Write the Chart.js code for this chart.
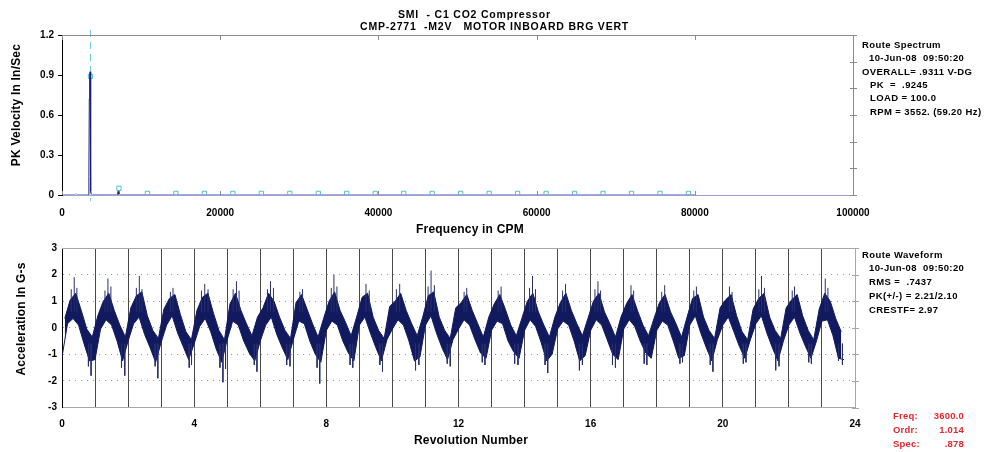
<!DOCTYPE html>
<html>
<head>
<meta charset="utf-8">
<script src="https://cdn.jsdelivr.net/npm/chart.js@4.4.1/dist/chart.umd.min.js"></script>
<style>
body{margin:0;background:#fff;width:999px;height:452px;overflow:hidden;position:relative;font-family:"Liberation Sans",Arial,sans-serif;}
canvas{position:absolute;left:0;top:0;}
.t{position:absolute;white-space:pre;font-weight:bold;font-size:9.5px;letter-spacing:0.4px;line-height:1;color:#000;}
.ttl{font-size:10.5px;letter-spacing:0.8px;}
.ax{font-size:12px;letter-spacing:0.2px;}
.red{color:#e8262c;letter-spacing:0.2px;}
.rot{transform:translate(-50%,-50%) rotate(-90deg);}
.ctr{transform:translateX(-50%);}
.r{text-align:right;}
</style>
</head>
<body>
<canvas id="spec" width="999" height="452"></canvas>
<canvas id="wave" width="999" height="452"></canvas>

<div class="t ttl" style="left:398px;top:9px">SMI  - C1 CO2 Compressor</div>
<div class="t ttl" style="left:360px;top:21px">CMP-2771  -M2V   MOTOR INBOARD BRG VERT</div>

<div class="t ax rot" style="left:16px;top:105px">PK Velocity In In/Sec</div>
<div class="t ax ctr" style="left:470px;top:223px">Frequency in CPM</div>
<div class="t ax rot" style="left:21px;top:319px">Acceleration In G-s</div>
<div class="t ax ctr" style="left:471px;top:434px">Revolution Number</div>

<div class="t" style="left:862px;top:40px">Route Spectrum</div>
<div class="t" style="left:869px;top:53px">10-Jun-08  09:50:20</div>
<div class="t" style="left:862px;top:67px">OVERALL= .9311 V-DG</div>
<div class="t" style="left:870px;top:80px">PK  =  .9245</div>
<div class="t" style="left:870px;top:93px">LOAD = 100.0</div>
<div class="t" style="left:870px;top:107px">RPM = 3552. (59.20 Hz)</div>

<div class="t" style="left:862px;top:250px">Route Waveform</div>
<div class="t" style="left:869px;top:263px">10-Jun-08  09:50:20</div>
<div class="t" style="left:869px;top:277px">RMS =  .7437</div>
<div class="t" style="left:869px;top:291px">PK(+/-) = 2.21/2.10</div>
<div class="t" style="left:869px;top:305px">CRESTF= 2.97</div>

<div class="t red" style="left:893px;top:411px">Freq:</div>
<div class="t red r" style="left:914px;width:50px;top:411px">3600.0</div>
<div class="t red" style="left:893px;top:425px">Ordr:</div>
<div class="t red r" style="left:914px;width:50px;top:425px">1.014</div>
<div class="t red" style="left:893px;top:439px">Spec:</div>
<div class="t red r" style="left:914px;width:50px;top:439px">.878</div>

<script>
// spectrum (CPM vs in/sec pk)
const specCpm = [0, 1700, 1800, 1900, 3350, 3400, 3450, 3500, 3550, 3600, 3650, 3700, 7000, 7100, 7200, 14300, 14400, 14500, 25100, 25200, 25300, 80000];
const specAmp = [0.003, 0.003, 0.012, 0.003, 0.003, 0.14, 0.72, 0.89, 0.924, 0.55, 0.03, 0.004, 0.003, 0.028, 0.004, 0.003, 0.008, 0.003, 0.003, 0.006, 0.003, 0.003];

// harmonic markers of the cursor
const harmCpm = [3600, 7200, 10800, 14400, 18000, 21600, 25200, 28800, 32400, 36000, 39600,
  43200, 46800, 50400, 54000, 57600, 61200, 64800, 68400, 72000, 75600, 79200];
const harmAmp = [0.89, 0.05, 0.012, 0.012, 0.012, 0.012, 0.012, 0.012, 0.012, 0.012, 0.012,
  0.012, 0.012, 0.012, 0.012, 0.012, 0.012, 0.012, 0.012, 0.012, 0.012, 0.012];
const cursorCpm = 3600;

const specTicks = [0, 20000, 40000, 60000, 80000, 100000];

// waveform, G-s, 12 samples per revolution (one row per rev), alternating low/high edge of the band
const samplesPerRev = 12;
const waveG = [
  [-1.1, 0.35, 0.15, 1.05, 0.35, 1.3, 0.1, 0.65, -0.6, -0.05, -1.25, -0.35],
  [-1.2, 0.45, -0.05, 1.0, 0.3, 1.3, 0.1, 0.65, -0.5, 0.1, -1.25, -0.35],
  [-0.5, 0.75, 0.15, 1.2, 0.4, 1.35, -0.25, 0.45, -0.75, -0.1, -1.3, -0.4],
  [-0.55, 0.7, 0.1, 1.1, 0.45, 1.25, -0.2, 0.5, -0.7, -0.15, -1.2, -0.45],
  [-0.6, 0.65, 0.05, 1.15, 0.35, 1.3, -0.15, 0.55, -0.8, -0.1, -1.3, -0.45],
  [-0.45, 0.9, 0.25, 1.3, 0.1, 0.65, -0.5, 0.15, -0.95, -0.3, -1.25, 0.4],
  [-0.5, 0.75, 0.1, 1.3, 0.4, 1.0, -0.25, 0.4, -0.75, -0.1, -1.2, -0.4],
  [-0.45, 0.95, 0.25, 1.25, 0.15, 0.7, -0.5, 0.15, -1.0, -0.35, -1.3, 0.35],
  [-0.1, 1.0, 0.25, 1.35, 0.1, 0.65, -0.5, 0.2, -0.95, -0.3, -1.25, 0.4],
  [0.1, 1.15, 0.4, 1.3, -0.2, 0.4, -0.75, -0.1, -1.25, -0.4, -0.45, 0.8],
  [-0.05, 1.0, 0.3, 1.3, 0.1, 0.65, -0.5, 0.15, -1.25, -0.3, -1.1, 0.4],
  [0.1, 1.2, 0.45, 1.35, -0.2, 0.4, -0.75, -0.1, -1.2, -0.4, -0.45, 0.75],
  [-0.05, 0.95, 0.3, 1.25, 0.1, 0.65, -0.45, 0.15, -0.95, -0.35, -1.15, 0.4],
  [-0.1, 0.9, 0.25, 1.25, 0.15, 0.7, -0.5, 0.1, -0.9, -0.3, -1.15, 0.35],
  [-0.1, 1.0, 0.3, 1.3, 0.05, 0.6, -0.55, 0.1, -1.25, -0.35, -1.0, 0.4],
  [-0.05, 0.95, 0.25, 1.3, 0.1, 0.65, -0.5, 0.15, -1.25, -0.3, -1.05, 0.35],
  [-0.1, 1.0, 0.3, 1.3, 0.1, 0.6, -0.45, 0.15, -1.0, -0.35, -1.2, 0.4],
  [-0.05, 0.9, 0.3, 1.25, 0.05, 0.65, -0.5, 0.1, -0.95, -0.3, -1.15, 0.35],
  [-0.1, 0.95, 0.25, 1.25, 0.1, 0.6, -0.5, 0.15, -1.15, -0.35, -1.05, 0.4],
  [0.1, 1.1, 0.45, 1.25, -0.2, 0.4, -0.75, -0.1, -1.25, -0.4, -0.45, 0.75],
  [0.1, 1.05, 0.4, 1.25, -0.15, 0.45, -0.7, -0.15, -1.15, -0.45, -0.45, 0.7],
  [0.15, 1.1, 0.45, 1.3, -0.2, 0.4, -0.75, -0.1, -1.25, -0.4, -0.5, 0.75],
  [0.1, 1.05, 0.4, 1.25, -0.2, 0.45, -0.7, -0.1, -1.15, -0.45, -0.5, 0.7],
  [0.25, 1.3, 0.3, 1.0, -0.3, 0.35, -1.15, -0.15, -1.2]
];

// thin noise spikes sticking out of the band (rev, G-s)
const spikeUpRev = [0.28, 0.37, 0.45, 1.3, 1.39, 1.48, 2.25, 2.34, 2.42, 3.28, 3.36, 4.22, 4.32, 4.42,
  5.18, 5.28, 5.36, 6.22, 6.31, 6.4, 7.2, 7.28, 8.15, 8.23, 8.32, 9.2, 9.3, 10.12, 10.22,
  11.08, 11.17, 11.27, 12.17, 12.25, 13.2, 13.29, 14.15, 14.24, 14.33, 15.15, 15.24,
  16.13, 16.22, 16.3, 17.22, 17.3, 18.15, 18.24, 19.12, 19.2, 20.2, 20.28,
  21.09, 21.17, 21.26, 22.1, 22.17, 23.1, 23.18];
const spikeUpG = [1.45, 1.9, 1.5, 1.4, 1.85, 1.55, 1.5, 1.95, 1.45, 1.35, 1.5, 1.4, 1.65, 1.45,
  1.45, 1.75, 1.4, 1.45, 1.75, 1.5, 1.35, 1.45, 1.5, 2.0, 1.55, 1.65, 1.4, 1.45, 1.65,
  1.55, 2.15, 1.6, 1.35, 1.5, 1.4, 1.55, 1.5, 1.95, 1.45, 1.4, 1.65,
  1.45, 1.75, 1.4, 1.6, 1.4, 1.35, 1.6, 1.4, 1.55, 1.55, 1.35,
  1.45, 1.95, 1.5, 1.4, 1.55, 1.85, 1.5];
const spikeDownRev = [0.8, 0.88, 1.8, 1.9, 2.82, 2.9, 3.85, 3.92, 4.78, 4.87, 4.95, 5.82, 5.9,
  6.8, 6.9, 7.72, 7.8, 8.72, 8.8, 9.62, 9.7, 10.7, 10.8, 11.66, 11.75, 12.72, 12.8,
  13.7, 13.8, 14.62, 14.7, 15.66, 15.75, 16.66, 16.75, 17.62, 17.7, 18.7, 18.78,
  19.62, 19.7, 20.62, 20.7, 21.6, 21.7, 22.6, 22.68, 23.5, 23.62];
const spikeDownG = [-1.45, -1.8, -1.5, -1.8, -1.45, -1.9, -1.5, -1.4, -1.5, -2.05, -1.55, -1.4, -1.65,
  -1.4, -1.45, -1.5, -2.1, -1.4, -1.5, -1.4, -1.65, -1.6, -1.4, -1.35, -1.45, -1.3, -1.4,
  -1.35, -1.4, -1.4, -1.7, -1.6, -1.4, -1.4, -1.5, -1.35, -1.4, -1.35, -1.3,
  -1.4, -1.65, -1.35, -1.3, -1.6, -1.45, -1.3, -1.35, -1.25, -1.4];
const spikeRoot = 0.6; // spikes start this far from zero, inside the band

const FONT = { family: '"Liberation Sans", Arial, sans-serif', size: 10, weight: 'bold' };
const NAVY = '#111a5e';

// gray frame on top/right plus small inner ticks
const framePlugin = {
  id: 'frame',
  afterDatasetsDraw(chart, args, o){
    const { ctx, chartArea: a } = chart;
    ctx.save();
    ctx.strokeStyle = o.color;
    ctx.lineWidth = 1;
    ctx.beginPath();
    ctx.moveTo(a.left, a.top + 0.5);
    ctx.lineTo(a.right + 0.5, a.top + 0.5);
    ctx.lineTo(a.right + 0.5, a.bottom);
    if (o.innerX){
      chart.scales.x.ticks.forEach(t => {
        const px = Math.round(chart.scales.x.getPixelForValue(t.value)) + 0.5;
        ctx.moveTo(px, a.bottom); ctx.lineTo(px, a.bottom - 4);
        ctx.moveTo(px, a.top); ctx.lineTo(px, a.top + 5);
      });
    }
    if (o.rightStep){
      const ys = chart.scales.y;
      for (let v = ys.min; v <= ys.max + 1e-9; v += o.rightStep){
        const py = Math.round(ys.getPixelForValue(v)) + 0.5;
        ctx.moveTo(a.right - 3, py); ctx.lineTo(a.right + 4, py);
      }
    }
    ctx.stroke();
    ctx.restore();
  }
};

const cursorPlugin = {
  id: 'cursor',
  beforeDatasetsDraw(chart, args, o){
    if (o.value == null) return;
    const { ctx, chartArea: a } = chart;
    const px = Math.round(chart.scales.x.getPixelForValue(o.value)) + 0.5;
    ctx.save();
    ctx.strokeStyle = '#6fcfd0';
    ctx.lineWidth = 1;
    ctx.setLineDash([7, 5]);
    ctx.beginPath();
    ctx.moveTo(px, a.top - 5);
    ctx.lineTo(px, a.bottom + 6);
    ctx.stroke();
    ctx.restore();
  }
};

new Chart(document.getElementById('spec'), {
  type: 'line',
  data: {
    datasets: [
      {
        data: specCpm.map((c, i) => ({ x: c, y: specAmp[i] })),
        borderColor: '#1c1c78', borderWidth: 1, pointRadius: 0, tension: 0,
        segment: { borderColor: s => (s.p0.parsed.y < 0.02 && s.p1.parsed.y < 0.02) ? '#9aa0d2' : undefined }
      },
      {
        data: harmCpm.map((c, i) => ({ x: c, y: harmAmp[i] })),
        showLine: false, pointStyle: 'rect', pointRadius: 3,
        borderColor: '#4cc3c8', borderWidth: 1, backgroundColor: 'rgba(255,255,255,0)'
      }
    ]
  },
  options: {
    responsive: false, animation: false, events: [],
    layout: { padding: { left: 0, top: 35, right: 146, bottom: 217 } },
    plugins: {
      legend: { display: false }, tooltip: { enabled: false },
      frame: { color: '#8a8a8a', innerX: true, rightStep: 0.2 },
      cursor: { value: cursorCpm }
    },
    scales: {
      x: {
        type: 'linear', min: 0, max: 100000,
        afterBuildTicks: s => { s.ticks = specTicks.map(v => ({ value: v })); },
        afterFit: s => { s.height = 40; },
        ticks: { font: FONT, color: '#000', padding: 12, maxRotation: 0, autoSkip: false, callback: v => String(v) },
        grid: { drawOnChartArea: false, drawTicks: false },
        border: { color: '#9aa0d2' }
      },
      y: {
        min: 0, max: 1.2,
        afterFit: s => { s.width = 62; },
        ticks: { stepSize: 0.3, font: FONT, color: '#000', padding: 4, callback: v => v === 0 ? '0' : v.toFixed(1) },
        grid: { drawOnChartArea: false, drawTicks: true, tickLength: 4, color: '#000' },
        border: { color: '#000' }
      }
    }
  },
  plugins: [framePlugin, cursorPlugin]
});

// split the alternating samples into the upper and lower edge of the noise band
const wavePts = waveG.flat().map((g, i) => ({ x: i / samplesPerRev, y: g }));
const waveLow = wavePts.filter((p, i) => i % 2 === 0);
const waveHigh = wavePts.filter((p, i) => i % 2 === 1);

// each spike is a short vertical segment; nulls break the line between spikes
const spikePts = [];
spikeUpRev.forEach((r, i) => spikePts.push({ x: r, y: spikeRoot }, { x: r, y: spikeUpG[i] }, { x: r, y: null }));
spikeDownRev.forEach((r, i) => spikePts.push({ x: r, y: -spikeRoot }, { x: r, y: spikeDownG[i] }, { x: r, y: null }));

new Chart(document.getElementById('wave'), {
  type: 'line',
  data: {
    datasets: [
      {
        data: spikePts, borderColor: '#28306e', borderWidth: 1, pointRadius: 0, tension: 0,
        fill: false, spanGaps: false
      },
      {
        data: waveHigh, borderColor: NAVY, borderWidth: 1, pointRadius: 0, tension: 0,
        backgroundColor: NAVY, fill: '+1'
      },
      {
        data: waveLow, borderColor: NAVY, borderWidth: 1, pointRadius: 0, tension: 0, fill: false
      }
    ]
  },
  options: {
    responsive: false, animation: false, events: [],
    layout: { padding: { left: 0, top: 248, right: 144, bottom: 4.5 } },
    plugins: {
      legend: { display: false }, tooltip: { enabled: false },
      filler: { propagate: false },
      frame: { color: '#a8a8a8', innerX: false, rightStep: 1 }
    },
    scales: {
      x: {
        type: 'linear', min: 0, max: 24,
        afterFit: s => { s.height = 40; },
        ticks: { stepSize: 1, autoSkip: false, maxRotation: 0, font: FONT, color: '#000', padding: 11,
          callback: v => v % 4 === 0 ? String(v) : '' },
        grid: { drawTicks: false, color: c => (c.tick && (c.tick.value === 0 || c.tick.value === 24)) ? 'rgba(0,0,0,0)' : '#4a4a4a' },
        border: { color: '#a8a8a8' }
      },
      y: {
        min: -3, max: 3,
        afterFit: s => { s.width = 62; },
        ticks: { stepSize: 1, font: FONT, color: '#000', padding: 5 },
        grid: { drawTicks: false, color: c => (c.tick && Math.abs(c.tick.value) === 3) ? 'rgba(0,0,0,0)' : '#9a9a9a' },
        border: { color: '#000', dash: [1, 5] }
      }
    }
  },
  plugins: [framePlugin]
});
</script>
</body>
</html>
